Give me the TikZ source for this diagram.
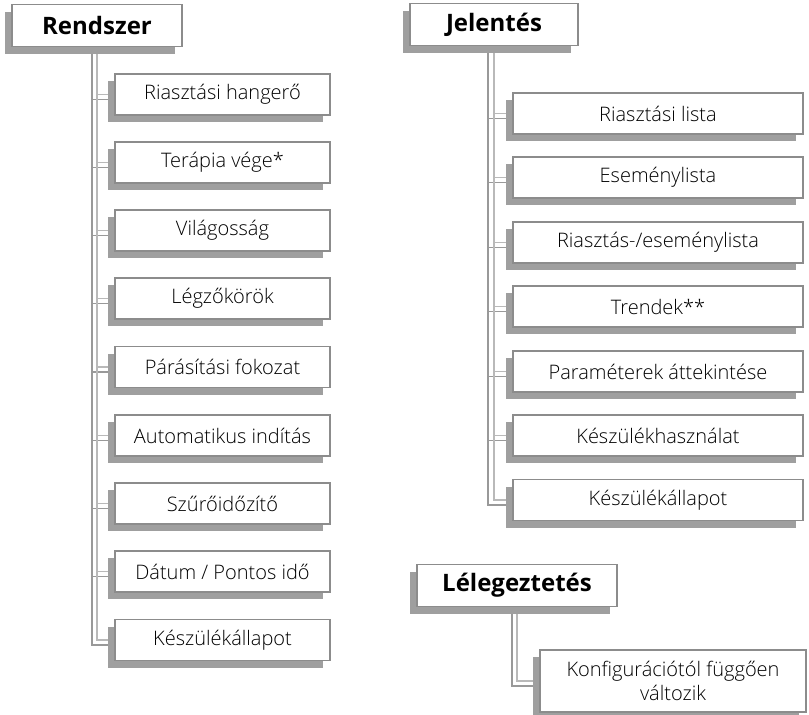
\documentclass[tikz,border=0pt]{standalone}
\usepackage{fontspec}
\setmainfont{Open Sans}
\newfontfamily\lightfont{Open Sans Light}
\usetikzlibrary{shadows,backgrounds}

\begin{document}
\begin{tikzpicture}[
            x=1pt, y=-1pt,
            box/.style={draw=gray!90, line width=1.6pt, fill=white, align=center,
                general shadow={shadow xshift=-7pt, shadow yshift=-7pt, fill=gray!75},
                font=\lightfont\fontsize{20}{24}\selectfont, inner sep=0pt},
            head/.style={box, font=\fontsize{24}{28}\selectfont\bfseries, minimum height=42pt},
            item/.style={box, minimum height=41pt},
            link/.style={draw=gray!55, line width=1.8pt},
            linkshadow/.style={draw=gray!80, line width=1.2pt}
        ]
        \useasboundingbox (0,0) rectangle (809,715);

        % fejlecek
        \coordinate (R) at (97,25.5);
        \coordinate (J) at (494,24.5);
        \coordinate (L) at (517,585.5);

        % Rendszer
        \node[head, minimum width=170pt] (rendszer) at (R) {Rendszer};
        \node[item, minimum width=215pt] (r1) at (222.5,94.5) {Riasztási hangerő};
        \node[item, minimum width=215pt] (r2) at (222.5,162.5) {Terápia vége*};
        \node[item, minimum width=215pt] (r3) at (222.5,230.5) {Világosság};
        \node[item, minimum width=215pt] (r4) at (222.5,298.5) {Légzőkörök};
        \node[item, minimum width=215pt] (r5) at (222.5,367) {Párásítási fokozat};
        \node[item, minimum width=215pt] (r6) at (222.5,435.5) {Automatikus indítás};
        \node[item, minimum width=215pt] (r7) at (222.5,503.5) {Szűrőidőzítő};
        \node[item, minimum width=215pt] (r8) at (222.5,571.5) {Dátum / Pontos idő};
        \node[item, minimum width=215pt] (r9) at (222.5,640) {Készülékállapot};

        % Jelentés
        \node[head, minimum width=168pt] (jelentes) at (J) {Jelentés};
        \node[item, minimum width=290pt] (j1) at (658,113.5) {Riasztási lista};
        \node[item, minimum width=290pt] (j2) at (658,177.5) {Eseménylista};
        \node[item, minimum width=290pt] (j3) at (658,242.5) {Riasztás-/eseménylista};
        \node[item, minimum width=290pt] (j4) at (658,306.5) {Trendek**};
        \node[item, minimum width=290pt] (j5) at (658,371.5) {Paraméterek áttekintése};
        \node[item, minimum width=290pt] (j6) at (658,435.5) {Készülékhasználat};
        \node[item, minimum width=290pt] (j7) at (658,500) {Készülékállapot};

        % Lélegeztetés
        \node[head, minimum width=200pt] (lelegeztetes) at (L) {Lélegeztetés};
        \node[box, minimum width=266pt, minimum height=62pt] (konfig) at (673,681)
            {Konfigurációtól függően\\változik};

        % osszekotok
        \begin{pgfonlayer}{background}
        \draw[linkshadow] ([shift={(-5,0)}]rendszer.south) |- ([shift={(0,5)}]r1.west);
        \draw[linkshadow] ([shift={(-5,0)}]rendszer.south) |- ([shift={(0,5)}]r2.west);
        \draw[linkshadow] ([shift={(-5,0)}]rendszer.south) |- ([shift={(0,5)}]r3.west);
        \draw[linkshadow] ([shift={(-5,0)}]rendszer.south) |- ([shift={(0,5)}]r4.west);
        \draw[linkshadow] ([shift={(-5,0)}]rendszer.south) |- ([shift={(0,5)}]r5.west);
        \draw[linkshadow] ([shift={(-5,0)}]rendszer.south) |- ([shift={(0,5)}]r6.west);
        \draw[linkshadow] ([shift={(-5,0)}]rendszer.south) |- ([shift={(0,5)}]r7.west);
        \draw[linkshadow] ([shift={(-5,0)}]rendszer.south) |- ([shift={(0,5)}]r8.west);
        \draw[linkshadow] ([shift={(-5,0)}]rendszer.south) |- ([shift={(0,5)}]r9.west);
        \draw[link] (rendszer.south) |- (r1.west);
        \draw[link] (rendszer.south) |- (r2.west);
        \draw[link] (rendszer.south) |- (r3.west);
        \draw[link] (rendszer.south) |- (r4.west);
        \draw[link] (rendszer.south) |- (r5.west);
        \draw[link] (rendszer.south) |- (r6.west);
        \draw[link] (rendszer.south) |- (r7.west);
        \draw[link] (rendszer.south) |- (r8.west);
        \draw[link] (rendszer.south) |- (r9.west);

        \draw[linkshadow] ([shift={(-6,0)}]jelentes.south) |- ([shift={(0,5)}]j1.west);
        \draw[linkshadow] ([shift={(-6,0)}]jelentes.south) |- ([shift={(0,5)}]j2.west);
        \draw[linkshadow] ([shift={(-6,0)}]jelentes.south) |- ([shift={(0,5)}]j3.west);
        \draw[linkshadow] ([shift={(-6,0)}]jelentes.south) |- ([shift={(0,5)}]j4.west);
        \draw[linkshadow] ([shift={(-6,0)}]jelentes.south) |- ([shift={(0,5)}]j5.west);
        \draw[linkshadow] ([shift={(-6,0)}]jelentes.south) |- ([shift={(0,5)}]j6.west);
        \draw[linkshadow] ([shift={(-6,0)}]jelentes.south) |- ([shift={(0,5)}]j7.west);
        \draw[link] (jelentes.south) |- (j1.west);
        \draw[link] (jelentes.south) |- (j2.west);
        \draw[link] (jelentes.south) |- (j3.west);
        \draw[link] (jelentes.south) |- (j4.west);
        \draw[link] (jelentes.south) |- (j5.west);
        \draw[link] (jelentes.south) |- (j6.west);
        \draw[link] (jelentes.south) |- (j7.west);

        \draw[linkshadow] ([shift={(-5,0)}]lelegeztetes.south) |- ([shift={(0,5)}]konfig.west);
        \draw[link] (lelegeztetes.south) |- (konfig.west);
        \end{pgfonlayer}
    \end{tikzpicture}
\end{document}
